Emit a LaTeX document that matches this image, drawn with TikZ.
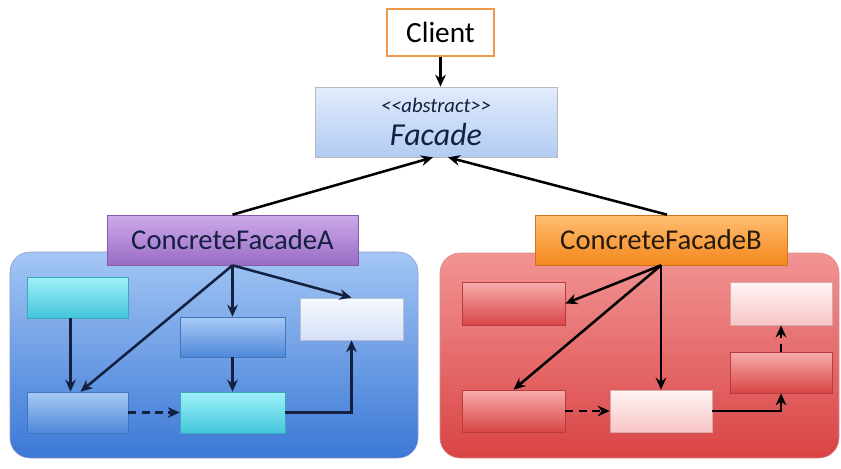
\documentclass[tikz,border=0pt]{standalone}
\usepackage{fontspec}
\setmainfont{Carlito}
\usetikzlibrary{arrows.meta, positioning, calc}

\definecolor{navyline}{HTML}{13203F}
\definecolor{clientedge}{HTML}{EE9A4A}
\definecolor{pkgbluetop}{HTML}{A3C6F4}
\definecolor{pkgbluebot}{HTML}{3B78D6}
\definecolor{pkgredtop}{HTML}{F29494}
\definecolor{pkgredbot}{HTML}{D94444}
\definecolor{facadetop}{HTML}{E2ECFC}
\definecolor{facadebot}{HTML}{B2CBF3}
\definecolor{cfatop}{HTML}{CDAAEA}
\definecolor{cfabot}{HTML}{9A6CC6}
\definecolor{cfbtop}{HTML}{FFBE72}
\definecolor{cfbbot}{HTML}{F4881C}
\definecolor{cyantop}{HTML}{9EF0F8}
\definecolor{cyanbot}{HTML}{44C6DC}
\definecolor{bluetop}{HTML}{A8CAF6}
\definecolor{bluebot}{HTML}{4E88DA}
\definecolor{paletop}{HTML}{F7F9FF}
\definecolor{palebot}{HTML}{D4E0F8}
\definecolor{redtop}{HTML}{F8ACAC}
\definecolor{redbot}{HTML}{D84646}
\definecolor{pinktop}{HTML}{FFF4F4}
\definecolor{pinkbot}{HTML}{F8C6C6}

\begin{document}
\begin{tikzpicture}[x=0.75pt, y=-0.75pt,
    sz/.style 2 args={minimum width=#1*0.75pt, minimum height=#2*0.75pt},
    shbox/.style 2 args={top color=#1, bottom color=#2, draw=#2!85!black, line width=0.5pt, inner sep=0pt},
    clientbox/.style={draw=clientedge, fill=white, line width=1.3pt, inner sep=0pt, font=\fontsize{22}{26}\selectfont},
    facadebox/.style={shbox={facadetop}{facadebot}, draw=gray!55, align=center, text=navyline},
    cfabox/.style={shbox={cfatop}{cfabot}, text=navyline, font=\fontsize{21.5}{26}\selectfont},
    cfbbox/.style={shbox={cfbtop}{cfbbot}, text=black!80!brown, font=\fontsize{21.5}{26}\selectfont},
    cyanbox/.style={shbox={cyantop}{cyanbot}},
    bluebox/.style={shbox={bluetop}{bluebot}},
    palebox/.style={shbox={paletop}{palebot}},
    redbox/.style={shbox={redtop}{redbot}},
    pinkbox/.style={shbox={pinktop}{pinkbot}},
    arr/.style={-{Stealth[length=9pt,width=8pt]}, line width=1.9pt},
    dasharr/.style={arr, dash pattern=on 6pt off 4pt}]

    \useasboundingbox (0,0) rectangle (841,468);

    % the two packages
    \draw[rounded corners=15pt, top color=pkgbluetop, bottom color=pkgbluebot, draw=blue!40!gray!60]
        (10,252) rectangle (418,458);
    \draw[rounded corners=15pt, top color=pkgredtop, bottom color=pkgredbot, draw=red!50!gray!60]
        (440,253) rectangle (839,458);

    \node[clientbox, sz={107}{47}] (client) at (440.5,32.5) {Client};
    \node[facadebox, sz={242}{70}] (facade) at (436,122)
        {{\fontsize{15.5}{18}\selectfont\itshape <\kern0pt<abstract>\kern0pt>}\\[7pt]
         {\fontsize{24}{26}\selectfont\itshape Facade}};
    \node[cfabox, sz={251}{50}] (cfa) at (232.5,240) {ConcreteFacadeA};
    \node[cfbbox, sz={252}{50}] (cfb) at (661,240) {ConcreteFacadeB};

    % inner classes
    \foreach \nm/\sty/\cx/\cy/\w/\h in {b1/cyanbox/77.5/297.5/101/41, b2/bluebox/232.5/337/105/40,
        b3/palebox/351.5/319/103/42, b4/bluebox/77.5/412.5/101/41, b5/cyanbox/232.5/412.5/105/41,
        r1/redbox/513.5/303.5/103/43, r2/pinkbox/781/303.5/102/43, r3/redbox/781/372.5/102/41,
        r4/redbox/513.5/411/103/42, r5/pinkbox/661/411/102/42}
        \node[\sty, sz={\w}{\h}] (\nm) at (\cx,\cy) {};

    \draw[arr] (client.south) -- (client.south |- facade.north);
    \draw[arr] (cfa.north) -- ($(facade.south)+(-3,0)$);
    \draw[arr] ($(cfb.north)+(6,0)$) -- ($(facade.south)+(12,0)$);

    \begin{scope}[navyline]
        \draw[arr] (cfa.south) -- ($(b4.north)+(3,0)$);
        \draw[arr] (cfa.south) -- (b2.north);
        \draw[arr] (cfa.south) -- (b3.north);
        \draw[arr] ($(b1.south)+(-7,0)$) -- ($(b4.north)+(-7,0)$);
        \draw[arr] (b2) -- (b5);
        \draw[dasharr] (b4) -- (b5);
        \draw[arr] (b5.east) -| (b3.south);
    \end{scope}

    \draw[arr] (cfb.south) -- (r1.east);
    \draw[arr] (cfb.south) -- (r4.north);
    \draw[arr] (cfb.south) -- (cfb.south |- r5.north);
    \draw[dasharr] (r4) -- (r5);
    \draw[arr] (r5.east) -| (r3.south);
    \draw[dasharr] (r3) -- (r2);
\end{tikzpicture}
\end{document}
